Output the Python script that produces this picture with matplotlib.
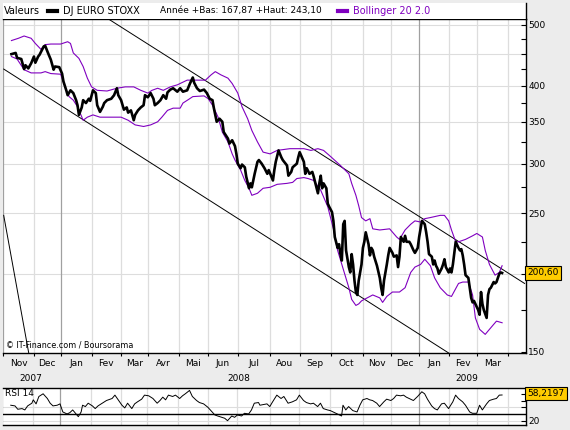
import matplotlib
matplotlib.use('Agg')
import matplotlib.pyplot as plt
import matplotlib.transforms as mtransforms
from matplotlib.lines import Line2D
from matplotlib.patches import Rectangle
from matplotlib.ticker import FixedLocator, NullFormatter

# x axis = trading day index, 0 = 1 Nov 2007
month_start = [0, 22, 41, 63, 84, 103, 125, 146, 167, 190, 211, 233, 256, 276, 296, 317, 337, 359]
month_names = ['Nov', 'Dec', 'Jan', 'Fev', 'Mar', 'Avr', 'Mai', 'Jun', 'Jul', 'Aou',
               'Sep', 'Oct', 'Nov', 'Dec', 'Jan', 'Fev', 'Mar']
year_start = [0, 41, 296]
year_names = ['2007', '2008', '2009']
year_pos = [20, 168, 330]

# DJ EURO STOXX close
price_day = [6, 9, 10, 13, 15, 16, 18, 20, 22, 23, 25, 26, 29, 30, 32, 34, 36, 37, 40, 42,
             43, 45, 46, 48, 50, 52, 53, 54, 56, 57, 59, 61, 62, 64, 66, 67, 69, 71, 72, 74,
             77, 79, 81, 82, 84, 86, 88, 89, 91, 93, 94, 96, 98, 100, 101, 103, 105, 107, 108, 110,
             112, 114, 116, 117, 119, 121, 124, 126, 128, 131, 133, 135, 136, 138, 140, 143, 145, 147, 149, 150,
             151, 152, 154, 156, 157, 160, 161, 163, 165, 166, 167, 169, 170, 172, 173, 175, 176, 177, 179, 181,
             182, 184, 186, 188, 189, 192, 193, 194, 196, 198, 199, 202, 203, 205, 206, 209, 210, 211, 214, 215,
             216, 218, 220, 221, 224, 225, 226, 227, 228, 230, 231, 232, 234, 235, 236, 238, 239, 240, 241, 242,
             243, 244, 246, 247, 248, 249, 250, 251, 252, 253, 255, 256, 257, 258, 260, 261, 262, 263, 264, 266,
             268, 269, 270, 271, 273, 274, 275, 277, 278, 280, 281, 282, 283, 285, 286, 287, 289, 290, 292, 293,
             295, 296, 297, 298, 300, 301, 302, 303, 305, 306, 307, 308, 309, 310, 312, 313, 314, 315, 317, 318,
             319, 320, 321, 322, 324, 325, 326, 327, 328, 329, 331, 332, 333, 334, 335, 336, 338, 339, 340, 341,
             342, 344, 345, 346, 347, 349, 350, 351, 352, 353, 354, 355]
price_close = [449, 451, 443, 441, 425, 431, 426, 434, 445, 435, 445, 448, 462, 463, 451, 440, 424, 429, 428, 418,
               406, 393, 386, 393, 389, 379, 372, 359, 369, 379, 375, 381, 378, 393, 389, 372, 363, 370, 375, 379,
               381, 386, 396, 386, 379, 366, 369, 362, 365, 352, 359, 365, 369, 372, 386, 383, 389, 381, 372, 375,
               379, 386, 381, 390, 394, 396, 391, 396, 391, 393, 403, 412, 404, 396, 392, 394, 389, 381, 379, 368,
               359, 350, 354, 350, 337, 329, 323, 327, 320, 311, 300, 295, 299, 296, 286, 274, 279, 275, 289, 302,
               304, 300, 295, 289, 293, 282, 293, 302, 315, 307, 304, 298, 287, 291, 296, 300, 307, 313, 302, 289,
               295, 289, 291, 286, 269, 279, 287, 274, 279, 274, 259, 256, 251, 243, 229, 220, 223, 215, 210, 240,
               243, 218, 205, 201, 215, 207, 195, 187, 185, 195, 207, 220, 225, 233, 223, 214, 220, 218, 213, 206,
               197, 190, 185, 195, 207, 214, 220, 216, 213, 214, 205, 213, 229, 225, 230, 225, 225, 223, 218, 216,
               220, 229, 236, 243, 240, 233, 225, 215, 213, 207, 210, 206, 204, 200, 204, 207, 211, 205, 201, 204,
               201, 207, 216, 225, 220, 218, 219, 214, 207, 199, 197, 190, 183, 180, 181, 179, 175, 172, 187, 179,
               175, 170, 185, 189, 190, 194, 193, 194, 197, 200, 201, 200.6]

# Bollinger 20 2.0
boll_up_day = [6, 11, 15, 20, 23, 27, 30, 34, 41, 46, 48, 50, 54, 57, 60, 63, 67, 74, 81, 87,
               93, 98, 103, 106, 110, 114, 119, 124, 126, 131, 138, 144, 148, 151, 155, 160, 163, 167, 170, 174,
               177, 181, 185, 190, 195, 204, 214, 219, 224, 228, 233, 240, 246, 248, 251, 253, 255, 258, 261, 263,
               268, 275, 280, 282, 286, 290, 293, 297, 300, 304, 311, 314, 317, 319, 322, 324, 329, 334, 337, 341,
               343, 346, 350, 353, 355]
boll_up = [472, 476, 480, 476, 467, 457, 465, 466, 466, 470, 467, 451, 442, 429, 411, 398, 393, 392, 396, 398,
           398, 393, 389, 393, 396, 393, 398, 401, 403, 408, 408, 408, 416, 421, 416, 411, 403, 389, 370, 354,
           339, 325, 313, 311, 315, 317, 317, 315, 317, 315, 308, 298, 289, 279, 267, 257, 246, 243, 245, 236,
           235, 236, 229, 227, 235, 240, 243, 242, 245, 246, 248, 248, 243, 235, 225, 225, 227, 230, 232, 229,
           218, 207, 199, 201, 206]
boll_lo_day = [6, 10, 15, 20, 27, 30, 34, 41, 45, 47, 50, 53, 57, 60, 64, 69, 77, 84, 89, 94,
               100, 105, 110, 113, 117, 121, 126, 128, 132, 135, 143, 146, 149, 153, 156, 160, 163, 165, 169, 172,
               175, 177, 181, 185, 190, 195, 202, 206, 209, 214, 217, 221, 226, 231, 235, 238, 241, 243, 246, 248,
               251, 253, 255, 259, 263, 268, 270, 273, 277, 282, 286, 290, 293, 297, 300, 304, 307, 311, 316, 319,
               324, 327, 331, 334, 336, 339, 343, 345, 349, 351, 355]
boll_lo = [445, 441, 424, 419, 419, 421, 418, 417, 393, 384, 379, 370, 352, 356, 359, 356, 356, 356, 352, 346,
           344, 346, 350, 356, 365, 368, 368, 375, 380, 384, 385, 381, 372, 356, 337, 325, 311, 304, 293, 282,
           274, 267, 269, 274, 275, 278, 279, 280, 284, 285, 284, 282, 272, 256, 236, 218, 207, 200, 190, 182,
           178, 179, 181, 183, 185, 183, 180, 184, 187, 187, 190, 201, 205, 207, 211, 206, 197, 190, 185, 184,
           193, 194, 194, 185, 170, 163, 160, 162, 166, 168, 167]

# channel lines drawn on the chart (day, value)
trend_up_day = [75, 371]
trend_up_val = [511, 193]
trend_lo_day = [0.5, 317]
trend_lo_val = [425, 149.4]
trend_steep_day = [0.5, 18.3]
trend_steep_val = [248, 149.4]

# RSI 14
rsi_day = [6, 9, 11, 14, 16, 18, 21, 22, 24, 26, 29, 32, 34, 36, 39, 41, 43, 46, 48, 50,
           52, 54, 56, 57, 59, 61, 64, 66, 68, 71, 74, 78, 80, 82, 85, 87, 89, 92, 94, 96,
           99, 101, 104, 107, 110, 112, 114, 116, 118, 121, 123, 126, 128, 130, 133, 135, 138, 140, 143, 146,
           149, 151, 153, 156, 158, 160, 163, 165, 167, 170, 172, 175, 177, 179, 182, 183, 188, 190, 192, 195,
           198, 200, 203, 206, 209, 211, 214, 216, 219, 221, 224, 226, 228, 231, 233, 235, 238, 241, 242, 244,
           246, 249, 252, 254, 256, 259, 261, 263, 266, 268, 271, 273, 276, 278, 280, 283, 285, 287, 290, 292,
           295, 298, 300, 302, 305, 307, 309, 312, 314, 317, 320, 322, 324, 327, 329, 332, 334, 337, 339, 341,
           344, 346, 349, 351, 353, 355]
rsi_val = [43, 42, 37, 38, 36, 42, 46, 51, 45, 56, 60, 53, 46, 42, 43, 45, 33, 30, 32, 36,
           31, 26, 33, 43, 41, 46, 42, 38, 42, 46, 50, 53, 58, 52, 43, 39, 46, 38, 45, 48,
           52, 58, 57, 53, 46, 50, 55, 51, 58, 56, 58, 53, 57, 60, 65, 56, 50, 47, 45, 40,
           33, 28.5, 27, 25, 23.6, 20, 27, 25, 28.5, 27, 31, 30, 36, 46, 47, 43, 45, 41, 48, 58,
           53, 56, 46, 48, 51, 58, 50, 47, 45, 46, 41, 46, 38, 36, 35, 33, 30, 27, 43, 36,
           41, 35, 33, 43, 51, 53, 51, 50, 46, 41, 48, 52, 50, 53, 58, 57, 58, 55, 52, 50,
           56, 63, 60, 52, 42, 38, 36, 45, 46, 38, 48, 58, 53, 48, 43, 33, 31, 31, 43, 36,
           45, 50, 52, 53, 58, 58.2197]

price_levels = [150, 250, 300, 350, 400, 500]
price_minor = [175, 200, 225, 275, 325, 375, 425, 450, 475]
grid_levels = [200, 250, 300, 350, 400, 450, 500]

purple = '#8000C0'
grid_col = '#DDDDDD'
year_col = '#A0A0A0'
box_col = '#FFCC00'
fs = 6.5

W, H = 570.0, 430.0


def frame(l, t, r, b):
    return [l / W, 1 - b / H, (r - l) / W, (b - t) / H]


fig = plt.figure(figsize=(5.7, 4.3), dpi=100, facecolor='#ECECEC')

# white strip behind the legend line
fig.patches.append(Rectangle((3 / W, 1 - 19 / H), 523 / W, 16 / H, transform=fig.transFigure,
                             facecolor='white', edgecolor='none', zorder=0))
fig.lines.append(Line2D([526 / W, 526 / W], [1 - 3 / H, 1 - 19 / H], transform=fig.transFigure,
                        color='black', lw=1.0))

ax = fig.add_axes(frame(3, 19, 526, 353))
rsi = fig.add_axes(frame(3, 388, 526, 425))

# ---- main price panel
ax.set_yscale('log')
ax.set_xlim(0.5, 372)
ax.set_ylim(149.4, 511)

for v in grid_levels:
    ax.axhline(v, color=grid_col, lw=0.8, zorder=0)
for d in month_start:
    ax.axvline(d, color=year_col if d in year_start else grid_col, lw=0.9, zorder=0)

ax.plot(trend_up_day, trend_up_val, color='black', lw=0.7, zorder=2)
ax.plot(trend_lo_day, trend_lo_val, color='black', lw=0.7, zorder=2)
ax.plot(trend_steep_day, trend_steep_val, color='black', lw=0.7, zorder=2)
ax.plot(boll_up_day, boll_up, color=purple, lw=0.8, zorder=3)
ax.plot(boll_lo_day, boll_lo, color=purple, lw=0.8, zorder=3)
ax.plot(price_day, price_close, color='black', lw=1.9, zorder=4)

for s in ['top', 'bottom', 'right']:
    ax.spines[s].set_linewidth(1.0)
ax.spines['left'].set_visible(False)

ax.yaxis.tick_right()
ax.yaxis.set_major_locator(FixedLocator(price_levels))
ax.set_yticklabels([str(v) for v in price_levels])
ax.yaxis.set_minor_locator(FixedLocator(price_minor))
ax.yaxis.set_minor_formatter(NullFormatter())
ax.tick_params(axis='y', which='both', direction='in', length=3.4, width=0.8,
               labelsize=fs, pad=1.5)

mids = [(month_start[i] + month_start[i + 1]) / 2 for i in range(len(month_names))]
ax.set_xticks(month_start)
ax.set_xticklabels([])
ax.set_xticks(mids, month_names, minor=True)
ax.tick_params(axis='x', which='major', direction='out', length=2.5, width=0.8)
ax.tick_params(axis='x', which='minor', length=0, pad=4.5, labelsize=fs)

trans = mtransforms.blended_transform_factory(ax.transData, ax.transAxes)
for p, y in zip(year_pos, year_names):
    ax.text(p, -0.075, y, transform=trans, ha='center', va='center', fontsize=fs)

ax.text(0.006, 0.024, '\u00a9 IT-Finance.com / Boursorama', transform=ax.transAxes,
        fontsize=5.8, va='center', ha='left')

ytrans = mtransforms.blended_transform_factory(ax.transAxes, ax.transData)
ax.text(1.003, price_close[-1], ('%.2f' % price_close[-1]).replace('.', ','), transform=ytrans,
        ha='left', va='center', fontsize=fs,
        bbox=dict(boxstyle='square,pad=0.25', fc=box_col, ec='black', lw=0.8))

# ---- legend line
ly = 1 - 11 / H
fig.text(4 / W, ly, 'Valeurs', fontsize=7, va='center', ha='left')
fig.lines.append(Line2D([48 / W, 57 / W], [ly, ly], transform=fig.transFigure, color='black', lw=3))
fig.text(63 / W, ly, 'DJ EURO STOXX', fontsize=7, va='center', ha='left')
fig.text(160 / W, ly, 'Ann\u00e9e +Bas: 167,87 +Haut: 243,10', fontsize=6.5, va='center', ha='left')
fig.lines.append(Line2D([338 / W, 347 / W], [ly, ly], transform=fig.transFigure, color=purple, lw=3))
fig.text(353 / W, ly, 'Bollinger 20 2.0', fontsize=7, va='center', ha='left', color=purple)

# ---- RSI panel
rsi.set_xlim(0.5, 372)
rsi.set_ylim(13.6, 68.6)
for v in [20, 40]:
    rsi.axhline(v, color=grid_col, lw=0.8, zorder=0)
for d in month_start:
    rsi.axvline(d, color=year_col if d in year_start else grid_col, lw=0.9, zorder=0)
rsi.axhline(30, color='black', lw=1.0, zorder=1)
rsi.plot(rsi_day, rsi_val, color='black', lw=0.7, zorder=3)

for s in ['top', 'bottom', 'right']:
    rsi.spines[s].set_linewidth(1.0)
rsi.spines['left'].set_visible(False)
rsi.set_xticks([])
rsi.yaxis.tick_right()
rsi.yaxis.set_major_locator(FixedLocator([20]))
rsi.set_yticklabels(['20'])
rsi.yaxis.set_minor_locator(FixedLocator([40, 50, 60]))
rsi.yaxis.set_minor_formatter(NullFormatter())
rsi.tick_params(axis='y', which='both', direction='in', length=3.4, width=0.8,
                labelsize=fs, pad=1.5)
rsi.text(0.004, 0.86, 'RSI 14', transform=rsi.transAxes, fontsize=fs, va='center', ha='left')

rtrans = mtransforms.blended_transform_factory(rsi.transAxes, rsi.transData)
rsi.text(1.003, rsi_val[-1] + 2, ('%.4f' % rsi_val[-1]).replace('.', ','), transform=rtrans,
         ha='left', va='center', fontsize=fs,
         bbox=dict(boxstyle='square,pad=0.25', fc=box_col, ec='black', lw=0.8))

fig.savefig('out.png', dpi=100, facecolor=fig.get_facecolor())
